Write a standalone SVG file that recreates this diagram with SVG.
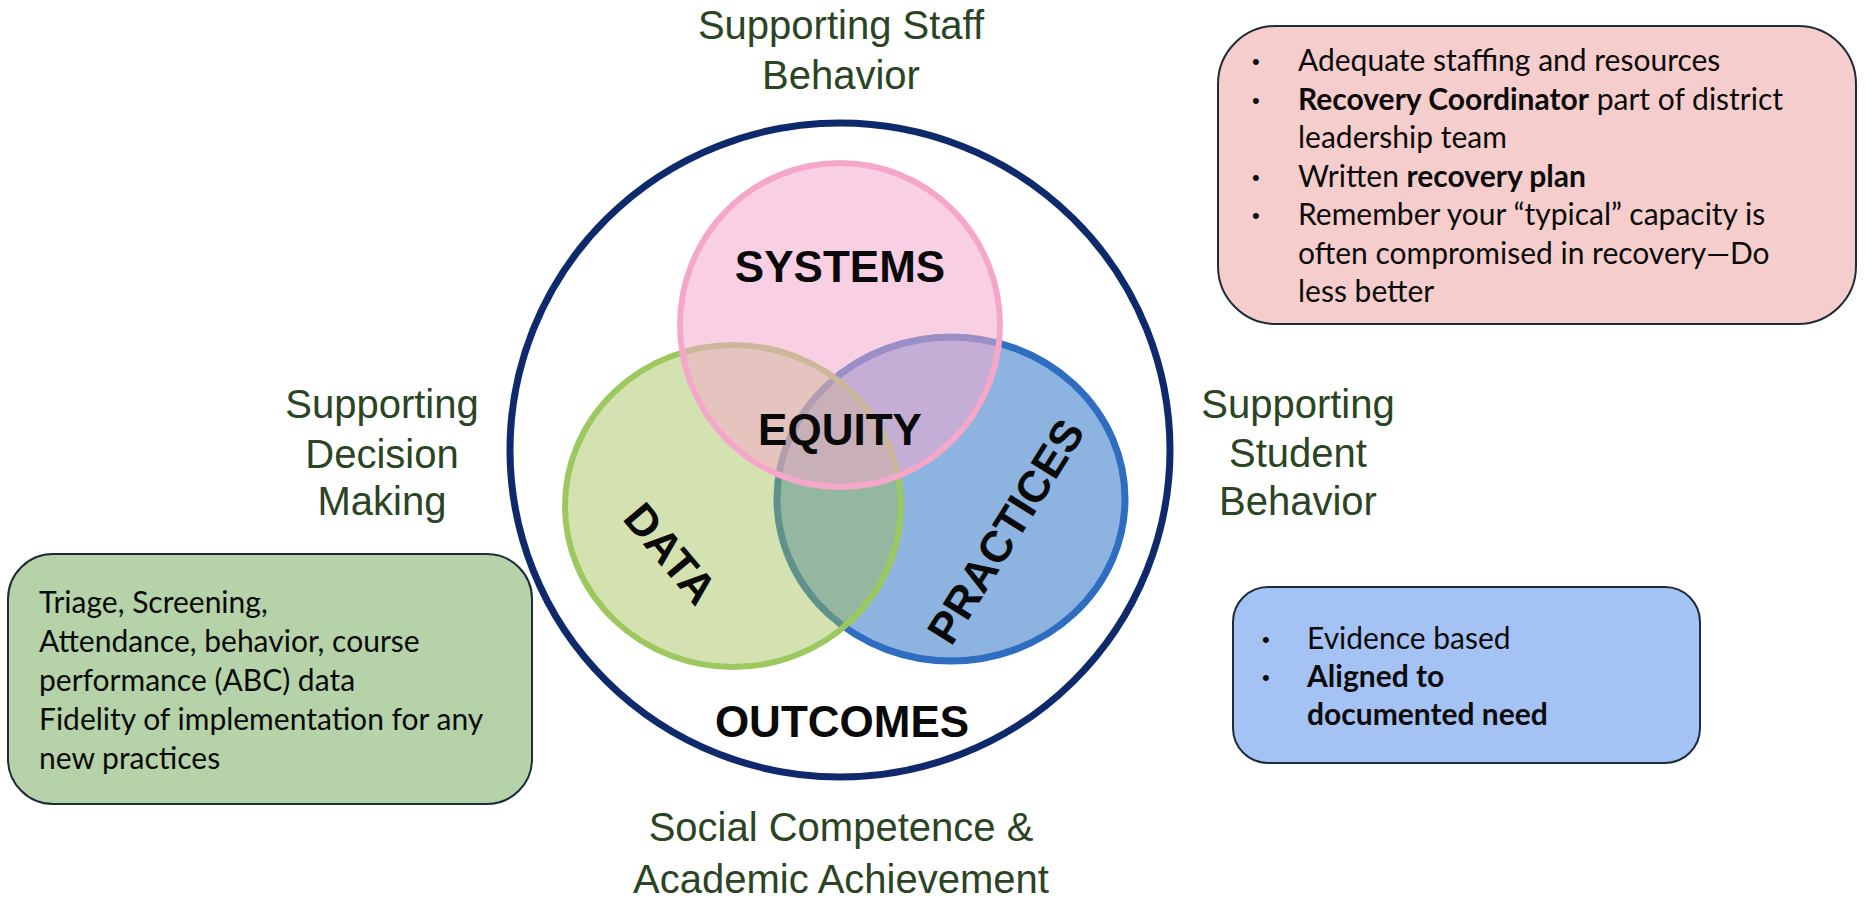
<svg xmlns="http://www.w3.org/2000/svg" width="1867" height="906" viewBox="0 0 1867 906">
<style>
.title{font-family:"Liberation Sans",Arial,sans-serif;font-size:40px;fill:#2a4424;text-anchor:middle}
.venn{font-family:"Liberation Sans",Arial,sans-serif;font-size:44px;font-weight:bold;fill:#0a0a0a;text-anchor:middle}
.box{stroke:#1d2b3a;stroke-width:2}
.bt{font-family:Lato,"Open Sans",sans-serif;font-size:30px;fill:#0b0b0b}
.b{font-weight:bold}
.bul{font-family:"Liberation Sans",Arial,sans-serif;font-size:22px;fill:#0b0b0b}
</style>
<rect width="1867" height="906" fill="#ffffff"/>

<g id="outer">
  <ellipse cx="840" cy="450" rx="330" ry="327" fill="#ffffff" stroke="#0f2a6c" stroke-width="7"/>
</g>

<g id="practices-circle">
  <ellipse cx="951" cy="499" rx="174" ry="162" fill="#8db3e0" stroke="#2e6dc0" stroke-width="7"/>
</g>
<g id="data-circle">
  <ellipse cx="733" cy="506" rx="168" ry="161" fill="rgb(158,191,80)" fill-opacity="0.45" stroke="#9dc75f" stroke-width="6"/>
</g>
<g id="systems-circle">
  <ellipse cx="840" cy="325" rx="160" ry="162" fill="rgb(244,169,204)" fill-opacity="0.55" stroke="#f5a7ca" stroke-width="6"/>
</g>

<g id="venn-labels">
  <text class="venn" x="840" y="282">SYSTEMS</text>
  <text class="venn" x="840" y="445">EQUITY</text>
  <text class="venn" transform="translate(671,553) rotate(50)" x="0" y="16">DATA</text>
  <text class="venn" transform="translate(1005,531) rotate(-58)" x="0" y="16">PRACTICES</text>
  <text class="venn" x="842" y="737">OUTCOMES</text>
</g>

<g id="titles">
  <text class="title" x="841" y="39">Supporting Staff</text>
  <text class="title" x="841" y="89">Behavior</text>
  <text class="title" x="382" y="418">Supporting</text>
  <text class="title" x="382" y="468">Decision</text>
  <text class="title" x="382" y="515">Making</text>
  <text class="title" x="1298" y="418">Supporting</text>
  <text class="title" x="1298" y="467">Student</text>
  <text class="title" x="1298" y="515">Behavior</text>
  <text class="title" x="841" y="841">Social Competence &amp;</text>
  <text class="title" x="841" y="893">Academic Achievement</text>
</g>

<g id="systems-box">
  <rect class="box" x="1218" y="26" width="638" height="298" rx="58" fill="#f5cdcc"/>
  <text class="bul" x="1252" y="69">•</text>
  <text class="bt" x="1298" y="71">Adequate staffing and resources</text>
  <text class="bul" x="1252" y="108">•</text>
  <text class="bt" x="1298" y="110"><tspan class="b">Recovery Coordinator</tspan> part of district</text>
  <text class="bt" x="1298" y="148">leadership team</text>
  <text class="bul" x="1252" y="185">•</text>
  <text class="bt" x="1298" y="187">Written <tspan class="b">recovery plan</tspan></text>
  <text class="bul" x="1252" y="223">•</text>
  <text class="bt" x="1298" y="225">Remember your “typical” capacity is</text>
  <text class="bt" x="1298" y="264">often compromised in recovery—Do</text>
  <text class="bt" x="1298" y="302">less better</text>
</g>

<g id="data-box">
  <rect class="box" x="8" y="554" width="524" height="250" rx="45" fill="#b5d2a8"/>
  <text class="bt" x="39" y="613">Triage, Screening,</text>
  <text class="bt" x="39" y="652">Attendance, behavior, course</text>
  <text class="bt" x="39" y="691">performance (ABC) data</text>
  <text class="bt" x="39" y="730">Fidelity of implementation for any</text>
  <text class="bt" x="39" y="769">new practices</text>
</g>

<g id="practices-box">
  <rect class="box" x="1233" y="587" width="467" height="176" rx="35" fill="#a4c2f4"/>
  <text class="bul" x="1262" y="647">•</text>
  <text class="bt" x="1307" y="649">Evidence based</text>
  <text class="bul" x="1262" y="685">•</text>
  <text class="bt b" x="1307" y="687">Aligned to</text>
  <text class="bt b" x="1307" y="725">documented need</text>
</g>
</svg>
